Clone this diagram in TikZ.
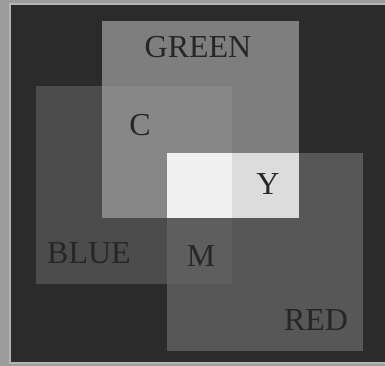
\documentclass[tikz,border=0pt]{standalone}
\usepackage{fontspec}
\setmainfont{Liberation Serif}
\definecolor{outer}{HTML}{9C9C9C}
\definecolor{edge}{HTML}{B4B4B4}
\definecolor{bgdark}{HTML}{2B2B2B}
\definecolor{gonly}{HTML}{7E7E7E}
\definecolor{bonly}{HTML}{4C4C4C}
\definecolor{ronly}{HTML}{575757}
\definecolor{cmix}{HTML}{878787}
\definecolor{ymix}{HTML}{DCDCDC}
\definecolor{mmix}{HTML}{5E5E5E}
\definecolor{wmix}{HTML}{F0F0F0}
\definecolor{ink}{HTML}{262626}
\tikzset{
  lbl/.style={text=ink, font=\fontsize{32}{32}\selectfont, inner sep=0pt, anchor=center},
}
\begin{document}
\begin{tikzpicture}[x=1pt,y=-1pt]
\useasboundingbox (0,0) rectangle (385,366);
\fill[outer] (0,0) rectangle (385,366);
\fill[bgdark, draw=edge, line width=1.2pt] (10,4) rectangle (386,363);
% single squares
\fill[ronly] (167,153) rectangle (363,351);
\fill[bonly] (36,86) rectangle (232,284);
\fill[gonly] (102,21) rectangle (299,218);
% overlaps
\fill[mmix] (167,153) rectangle (232,284);
\fill[cmix] (102,86) rectangle (232,218);
\fill[ymix] (167,153) rectangle (299,218);
\fill[wmix] (167,153) rectangle (232,218);
% labels
\node[lbl] (green) at (198,47) {GREEN};
\node[lbl] (c) at (140,125) {C};
\node[lbl] (y) at (268,184) {Y};
\node[lbl] (blue) at (89,253) {BLUE};
\node[lbl] (m) at (201,256) {M};
\node[lbl] (red) at (316,320) {RED};
\end{tikzpicture}
\end{document}
